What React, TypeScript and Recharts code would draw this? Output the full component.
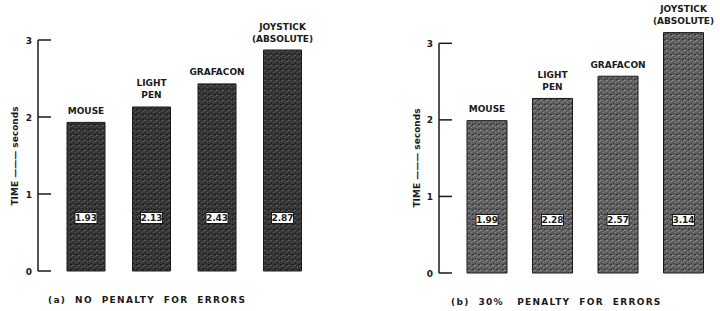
import React from 'react';
import { BarChart, Bar, XAxis, YAxis, LabelList, ReferenceArea } from 'recharts';

// device names (line break = second line of the label)
const devices = ['MOUSE', 'LIGHT\nPEN', 'GRAFACON', 'JOYSTICK\n(ABSOLUTE)'];
// mean time in seconds, panel (a) and panel (b)
const noPenaltyTimes = [1.93, 2.13, 2.43, 2.87];
const penaltyTimes = [1.99, 2.28, 2.57, 3.14];
const timeTicks = [0, 1, 2, 3];
const axisTop = 3;

const FONT = '"DejaVu Sans", sans-serif';
const INK = '#1a1a1a';

const NameLabel = (props: any) => {
  const { x, y, width, value } = props;
  const lines = String(value).split('\n');
  const cx = x + width / 2;
  return (
    <text textAnchor="middle" fontSize={9} fontWeight="bold" fontFamily={FONT} fill={INK}>
      {lines.map((l, i) => (
        <tspan key={i} x={cx} y={y - 8.5 - (lines.length - 1 - i) * 12}>
          {l}
        </tspan>
      ))}
    </text>
  );
};

const ValueBox = (props: any) => {
  const { x, y, width, height, value } = props;
  const cx = x + width / 2;
  const cy = y + height - 53;
  return (
    <g>
      <rect x={cx - 11} y={cy - 5.5} width={22} height={11} fill="#fff" stroke={INK} strokeWidth={1} />
      <text x={cx} y={cy + 3.3} textAnchor="middle" fontSize={9} fontWeight="bold" fontFamily={FONT} fill={INK}>
        {Number(value).toFixed(2)}
      </text>
    </g>
  );
};

const TimeTick = (props: any) => {
  const { x, y, payload } = props;
  return (
    <g>
      <line x1={x} y1={y} x2={x + 13} y2={y} stroke={INK} strokeWidth={1.5} />
      <text x={x - 6} y={y + 3.5} textAnchor="end" fontSize={9} fontWeight="bold" fontFamily={FONT} fill={INK}>
        {payload.value}
      </text>
    </g>
  );
};

interface PanelProps {
  id: string;
  values: number[];
  yMax: number;
  margin: { top: number; right: number; bottom: number; left: number };
  yWidth: number;
  padL: number;
  padR: number;
  barSize: number;
  base: string;
  light: string;
  dark: string;
}

function Panel({ id, values, yMax, margin, yWidth, padL, padR, barSize, base, light, dark }: PanelProps) {
  const data = devices.map((name, i) => ({ name, time: values[i] }));
  return (
    <BarChart width={360} height={311} data={data} margin={margin}>
      <defs>
        <pattern id={id} width={6} height={5} patternUnits="userSpaceOnUse">
          <rect width={6} height={5} fill={base} />
          <rect x={0} y={0} width={2} height={1} fill={light} />
          <rect x={3} y={2} width={1} height={1} fill={light} />
          <rect x={4} y={4} width={2} height={1} fill={dark} />
          <rect x={1} y={3} width={1} height={1} fill={dark} />
          <rect x={5} y={1} width={1} height={1} fill={light} />
        </pattern>
      </defs>
      <XAxis
        dataKey="name"
        tick={false}
        tickLine={false}
        height={0}
        padding={{ left: padL, right: padR }}
        axisLine={{ stroke: INK, strokeWidth: 1.5 }}
      />
      <YAxis
        type="number"
        domain={[0, yMax]}
        ticks={timeTicks}
        width={yWidth}
        axisLine={false}
        tickLine={false}
        tickSize={0}
        tickMargin={0}
        tick={<TimeTick />}
      />
      {/* y axis line only up to the "3" tick */}
      <ReferenceArea
        y1={0}
        y2={axisTop}
        shape={(p: any) => (
          <line x1={p.x - padL} y1={p.y} x2={p.x - padL} y2={p.y + p.height} stroke={INK} strokeWidth={1.5} />
        )}
      />
      <Bar dataKey="time" barSize={barSize} fill={`url(#${id})`} stroke={INK} strokeWidth={1} isAnimationActive={false}>
        <LabelList dataKey="name" content={<NameLabel />} />
        <LabelList dataKey="time" content={<ValueBox />} />
      </Bar>
    </BarChart>
  );
}

const captionStyle: React.CSSProperties = {
  position: 'absolute',
  fontFamily: FONT,
  fontSize: 9,
  fontWeight: 'bold',
  letterSpacing: 1.3,
  whiteSpace: 'pre',
  color: INK,
  lineHeight: '10px',
};

const yTitleStyle: React.CSSProperties = {
  position: 'absolute',
  fontFamily: FONT,
  fontSize: 9,
  fontWeight: 'bold',
  whiteSpace: 'pre',
  color: INK,
  transform: 'translate(-50%, -50%) rotate(-90deg)',
  lineHeight: '9px',
};

export default function App() {
  return (
    <div style={{ position: 'absolute', left: 0, top: 0, width: 720, height: 311, background: '#fff', overflow: 'hidden' }}>
      <div style={{ position: 'absolute', left: 0, top: 0 }}>
        <Panel
          id="texA"
          values={noPenaltyTimes}
          yMax={3}
          margin={{ top: 40, right: 27, bottom: 40, left: 0 }}
          yWidth={38}
          padL={15}
          padR={18}
          barSize={38}
          base="#353535"
          light="#5a5a5a"
          dark="#1c1c1c"
        />
      </div>
      <div style={{ position: 'absolute', left: 360, top: 0 }}>
        <Panel
          id="texB"
          values={penaltyTimes}
          yMax={3.2}
          margin={{ top: 28, right: 0, bottom: 38, left: 0 }}
          yWidth={79}
          padL={15}
          padR={4}
          barSize={40}
          base="#5e5e5e"
          light="#8a8a8a"
          dark="#333333"
        />
      </div>
      <div style={{ ...yTitleStyle, left: 15, top: 156 }}>TIME ——— seconds</div>
      <div style={{ ...yTitleStyle, left: 417, top: 158 }}>TIME ——— seconds</div>
      <div style={{ ...captionStyle, left: 48, top: 295 }}>(a)  NO  PENALTY  FOR  ERRORS</div>
      <div style={{ ...captionStyle, left: 451, top: 297 }}>(b)  30%   PENALTY  FOR  ERRORS</div>
    </div>
  );
}
